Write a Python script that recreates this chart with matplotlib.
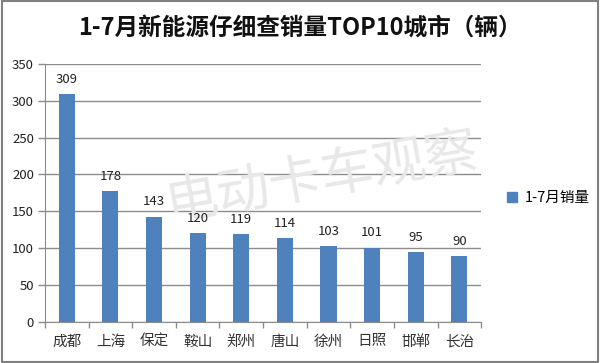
import matplotlib
matplotlib.use("Agg")
import matplotlib.pyplot as plt
from matplotlib.patches import Rectangle, Patch

plt.rcParams['font.family'] = ['Noto Sans CJK SC', 'DejaVu Sans']

cities = ["成都", "上海", "保定", "鞍山", "郑州", "唐山", "徐州", "日照", "邯郸", "长治"]
sales = [309, 178, 143, 120, 119, 114, 103, 101, 95, 90]
series_name = "1-7月销量"
title = "1-7月新能源仔细查销量TOP10城市（辆）"
watermark = "电动卡车观察"
yticks = [0, 50, 100, 150, 200, 250, 300, 350]

bar_color = "#4F81BD"
grid_color = "#8C8C8C"

fig = plt.figure(figsize=(6.0, 3.63), dpi=100)
ax = fig.add_axes([0.075, 0.113, 0.727, 0.711])

x = list(range(len(cities)))
ax.bar(x, sales, width=0.37, color=bar_color, zorder=3)
for xi, v in zip(x, sales):
    ax.text(xi, v + 11, str(v), ha="center", va="bottom", fontsize=9.5, color="#222222", zorder=4)

ax.set_xlim(-0.5, len(cities) - 0.5)
ax.set_ylim(0, 350)
ax.set_yticks(yticks)
ax.set_yticklabels([str(t) for t in yticks], fontsize=9.5, color="#222222")
ax.yaxis.grid(True, color=grid_color, linewidth=1.0, zorder=0)
ax.set_axisbelow(True)

ax.set_xticks(x)
ax.set_xticklabels(cities, fontsize=10.5, color="#333333")
ax.tick_params(axis="x", length=0, pad=9)
ax.set_xticks([i - 0.5 for i in range(len(cities) + 1)], minor=True)
ax.tick_params(axis="x", which="minor", length=4, color=grid_color, width=1)
ax.tick_params(axis="y", length=5, color=grid_color, width=1, pad=3)

for s in ["top", "right"]:
    ax.spines[s].set_visible(False)
ax.spines["left"].set_color(grid_color)
ax.spines["bottom"].set_color(grid_color)

fig.text(0.5, 0.925, title, ha="center", va="center", fontsize=17, fontweight="bold", color="#111111")

ax.text(0.537, 0.51, watermark, transform=fig.transFigure, ha="center", va="center",
        fontsize=38, color="#E8E8E8", rotation=10, zorder=2, clip_on=False, fontweight="light")

fig.legend(handles=[Patch(color=bar_color, label=series_name)], loc="center left",
           bbox_to_anchor=(0.823, 0.455), frameon=False, fontsize=10.5,
           handlelength=0.7, handleheight=0.7, handletextpad=0.5)

fig.patches.append(Rectangle((0.003, 0.004), 0.994, 0.992, transform=fig.transFigure,
                             fill=False, edgecolor="#808080", linewidth=1.5))

fig.savefig("out.png", dpi=100)
